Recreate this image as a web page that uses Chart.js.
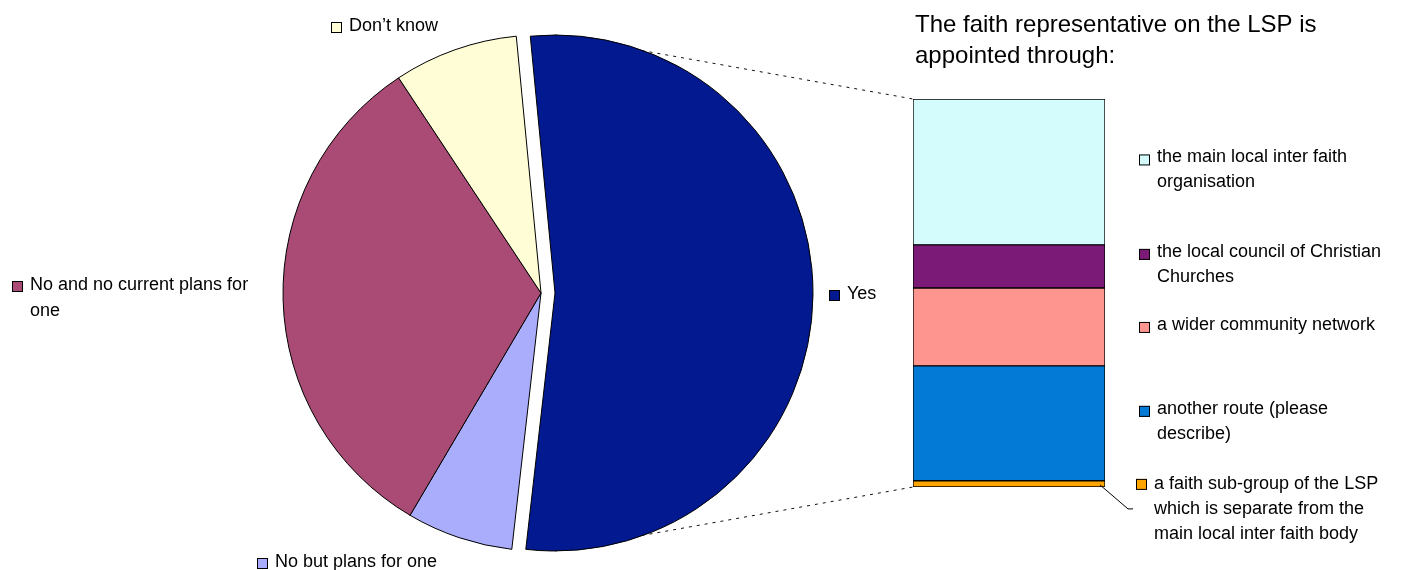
<!DOCTYPE html>
<html>
<head>
<meta charset="utf-8">
<script src="https://cdn.jsdelivr.net/npm/chart.js@4.4.0/dist/chart.umd.min.js"></script>
<style>
  html, body { margin: 0; padding: 0; background: #fff; }
  #wrap { position: relative; width: 1406px; height: 570px; }
  #wrap canvas { position: absolute; left: 0; top: 0; }
</style>
</head>
<body>
<div id="wrap">
  <canvas id="pieRest" width="1406" height="570"></canvas>
  <canvas id="pieYes" width="1406" height="570"></canvas>
  <canvas id="bar" width="1406" height="570"></canvas>
</div>
<script>
// pie slices, clockwise from the top
const pieLabels = ['Yes', 'No but plans for one', 'No and no current plans for one', 'Don\u2019t know'];
const pieValues = [48, 6, 29, 7];
const pieColors = ['#03198F', '#AAADFC', '#AA4B76', '#FFFDD6'];
const pieLabelLines = [['Yes'], ['No but plans for one'], ['No and no current plans for', 'one'], ['Don\u2019t know']];

// breakdown of the "Yes" slice, top of the bar to the bottom
const barLabels = [
    ['the main local inter faith', 'organisation'],
    ['the local council of Christian', 'Churches'],
    ['a wider community network'],
    ['another route (please', 'describe)'],
    ['a faith sub-group of the LSP', 'which is separate from the', 'main local inter faith body']
];
const barValues = [37.6, 11.1, 20.1, 29.6, 1.6];
const barColors = ['#D5FCFD', '#7B1A77', '#FE968F', '#027AD6', '#FFA500'];
const titleLines = ['The faith representative on the LSP is', 'appointed through:'];

const FONT = '"Liberation Sans", Arial, sans-serif';

function keyBox(ctx, x, y, color) {
    ctx.fillStyle = color;
    ctx.fillRect(x, y - 5, 11, 11);
    ctx.strokeStyle = '#000';
    ctx.lineWidth = 1;
    ctx.strokeRect(x + 0.5, y - 4.5, 10, 10);
}

function textLines(ctx, lines, x, y, lh) {
    ctx.fillStyle = '#000';
    ctx.textAlign = 'left';
    ctx.textBaseline = 'middle';
    lines.forEach((t, k) => ctx.fillText(t, x, y + k * lh));
}

// ---- bar of the "Yes" split ----
const barText = {
    id: 'barText',
    afterDraw(chart) {
        const ctx = chart.ctx;
        const area = chart.chartArea;
        ctx.save();
        ctx.font = '24px ' + FONT;
        ctx.fillStyle = '#000';
        ctx.textBaseline = 'alphabetic';
        ctx.fillText(titleLines[0], area.left + 2, area.top - 67);
        ctx.fillText(titleLines[1], area.left + 2, area.top - 36);

        ctx.font = '18px ' + FONT;
        const n = barLabels.length;
        for (let i = 0; i < n; i++) {
            const el = chart.getDatasetMeta(n - 1 - i).data[0];
            const right = el.x + el.width / 2;
            const mid = (el.y + el.base) / 2;
            const lines = barLabels[i];
            if (i == n - 1) {
                // thin slice: label pushed down with a leader line
                ctx.strokeStyle = '#000';
                ctx.lineWidth = 1;
                ctx.beginPath();
                ctx.moveTo(right - 5, mid + 1);
                ctx.lineTo(right + 23, mid + 25);
                ctx.lineTo(right + 28, mid + 25);
                ctx.stroke();
                keyBox(ctx, right + 31, mid, barColors[i]);
                textLines(ctx, lines, right + 49, mid, 25);
            } else {
                const top = mid - 2 - (lines.length - 1) * 25 / 2;
                keyBox(ctx, right + 34, top + 2, barColors[i]);
                textLines(ctx, lines, right + 52, top, 25);
            }
        }
        ctx.restore();
    }
};

const barChart = new Chart(document.getElementById('bar'), {
    type: 'bar',
    data: {
        labels: ['Yes'],
        datasets: barValues.map((v, i) => ({
            label: barLabels[i].join(' '),
            data: [v],
            backgroundColor: barColors[i],
            borderColor: '#000',
            borderWidth: 1,
            borderSkipped: false,
            barPercentage: 1,
            categoryPercentage: 1
        })).reverse()
    },
    options: {
        responsive: false,
        animation: false,
        events: [],
        layout: { padding: { left: 913, right: 301, top: 99, bottom: 83 } },
        scales: {
            x: { stacked: true, display: false },
            y: { stacked: true, display: false, min: 0, max: 100 }
        },
        plugins: { legend: { display: false }, tooltip: { enabled: false } }
    },
    plugins: [barText]
});

// ---- pie ----
// the pie is drawn twice: once showing only the pulled-out Yes slice,
// once showing the other slices, so the Yes slice keeps the same radius
function pieConfig(showYes, padLeft, plugins) {
    const keep = i => (i == 0) == showYes;
    return {
        type: 'pie',
        data: {
            labels: pieLabels,
            datasets: [{
                data: pieValues,
                backgroundColor: pieColors.map((c, i) => keep(i) ? c : 'rgba(0,0,0,0)'),
                borderColor: '#000',
                borderWidth: pieColors.map((c, i) => keep(i) ? 1 : 0),
                radius: 258,
                rotation: -5.5
            }]
        },
        options: {
            responsive: false,
            animation: false,
            events: [],
            layout: { padding: { left: padLeft, right: 1406 - padLeft - 600, top: 16, bottom: 0 } },
            plugins: { legend: { display: false }, tooltip: { enabled: false } }
        },
        plugins: plugins
    };
}

const yesChart = new Chart(document.getElementById('pieYes'), pieConfig(true, 255, []));

// dotted lines from the Yes slice to the bar, drawn under the slices
const connectors = {
    id: 'connectors',
    beforeDatasetsDraw(chart) {
        const yes = yesChart.getDatasetMeta(0).data[0];
        const n = barValues.length;
        const topEl = barChart.getDatasetMeta(n - 1).data[0];
        const botEl = barChart.getDatasetMeta(0).data[0];
        const ctx = chart.ctx;
        ctx.save();
        ctx.strokeStyle = '#111';
        ctx.lineWidth = 1;
        ctx.setLineDash([3, 5]);
        ctx.beginPath();
        ctx.moveTo(yes.x, yes.y - yes.outerRadius);
        ctx.lineTo(topEl.x - topEl.width / 2, topEl.y);
        ctx.moveTo(yes.x, yes.y + yes.outerRadius);
        ctx.lineTo(botEl.x - botEl.width / 2, botEl.base);
        ctx.stroke();
        ctx.restore();
    }
};

// slice labels with their legend keys
const pieText = {
    id: 'pieText',
    afterDraw(chart) {
        const yes = yesChart.getDatasetMeta(0).data[0];
        const rest = chart.getDatasetMeta(0).data[1];
        const cx = rest.x, cy = rest.y;
        const spots = [
            [yes.x + yes.outerRadius + 16, yes.y + 1],
            [cx - 284, cy + 269],
            [cx - 529, cy - 8],
            [cx - 210, cy - 267]
        ];
        const ctx = chart.ctx;
        ctx.save();
        ctx.font = '18px ' + FONT;
        pieLabelLines.forEach((lines, i) => {
            const [bx, by] = spots[i];
            keyBox(ctx, bx, by + 1, pieColors[i]);
            textLines(ctx, lines, bx + 18, by, 26);
        });
        ctx.restore();
    }
};

const restChart = new Chart(document.getElementById('pieRest'), pieConfig(false, 241, [connectors, pieText]));
</script>
</body>
</html>
